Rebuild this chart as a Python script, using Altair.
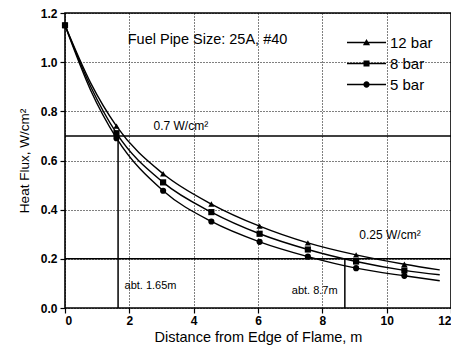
import altair as alt
import pandas as pd

series = ["12 bar", "8 bar", "5 bar"]

# marker positions (distance, m) and heat flux (W/cm2)
marker_x = [0.0, 1.6, 3.05, 4.55, 6.05, 7.55, 9.05, 10.55]
mark_12 = [1.15, 0.740, 0.546, 0.423, 0.333, 0.265, 0.216, 0.178]
mark_8 = [1.15, 0.711, 0.511, 0.390, 0.302, 0.238, 0.189, 0.153]
mark_5 = [1.15, 0.691, 0.477, 0.352, 0.269, 0.209, 0.162, 0.131]

# fitted curves
curve_x = [0.0, 0.8, 1.6, 3.05, 4.55, 6.05, 7.55, 9.05, 10.55, 11.65]
curve_12 = [1.15, 0.915, 0.740, 0.546, 0.423, 0.333, 0.265, 0.216, 0.178, 0.155]
curve_8 = [1.15, 0.900, 0.711, 0.511, 0.390, 0.302, 0.238, 0.189, 0.153, 0.135]
curve_5 = [1.15, 0.885, 0.691, 0.477, 0.352, 0.269, 0.209, 0.162, 0.131, 0.111]

# reference levels
h_levels = [0.7, 0.2]
v_x = [1.65, 8.7]
v_top = [0.7, 0.2]

# annotations
ann_text = ["Fuel Pipe Size: 25A, #40", "0.7 W/cm²", "0.25 W/cm²", "abt. 1.65m", "abt. 8.7m"]
ann_x = [1.95, 2.75, 9.15, 1.85, 7.05]
ann_y = [1.092, 0.74, 0.297, 0.088, 0.068]
ann_size = [14.5, 12, 12, 11, 11]

x_ticks = list(range(0, 13))
y_ticks = [round(i * 0.1, 1) for i in range(0, 13)]

FONT = "Liberation Sans"

pts = pd.DataFrame(
    [(x, y, s) for s, ys in zip(series, [mark_12, mark_8, mark_5]) for x, y in zip(marker_x, ys)],
    columns=["x", "y", "series"],
)
crv = pd.DataFrame(
    [(x, y, s) for s, ys in zip(series, [curve_12, curve_8, curve_5]) for x, y in zip(curve_x, ys)],
    columns=["x", "y", "series"],
)
hr = pd.DataFrame({"y": h_levels})
vr = pd.DataFrame({"x": v_x, "y0": [0.0, 0.0], "y1": v_top})
ann = pd.DataFrame({"t": ann_text, "x": ann_x, "y": ann_y, "s": ann_size})

xscale = alt.Scale(domain=[0, 12], nice=False, zero=False)
yscale = alt.Scale(domain=[0, 1.2], nice=False, zero=False)

even_x = "datum.value % 2 === 0"
even_y = "round(datum.value * 10) % 2 === 0"

xaxis = alt.Axis(
    values=x_ticks,
    labelExpr=f"{even_x} ? datum.label : ''",
    grid=True,
    gridDash=[1, 2],
    gridColor="black",
    gridWidth=1,
    gridOpacity={"condition": {"test": even_x, "value": 1}, "value": 0},
    tickSize={"condition": {"test": even_x, "value": 5}, "value": 3},
    tickColor="black",
    tickWidth=1.2,
    domain=False,
    labelFont=FONT,
    labelFontSize=12,
    labelFontWeight="bold",
    labelColor="black",
    labelPadding=2,
    title="Distance from Edge of Flame, m",
    titleFont=FONT,
    titleFontSize=14.5,
    titleFontWeight="normal",
    titleColor="black",
    titlePadding=4,
)
yaxis = alt.Axis(
    values=y_ticks,
    format=".1f",
    labelExpr=f"{even_y} ? datum.label : ''",
    grid=True,
    gridDash=[1, 2],
    gridColor="black",
    gridWidth=1,
    gridOpacity={"condition": {"test": even_y, "value": 1}, "value": 0},
    tickSize={"condition": {"test": even_y, "value": 5}, "value": 3},
    tickColor="black",
    tickWidth=1.2,
    domain=False,
    labelFont=FONT,
    labelFontSize=12,
    labelFontWeight="bold",
    labelColor="black",
    labelPadding=3,
    title="Heat Flux, W/cm²",
    titleFont=FONT,
    titleFontSize=13.5,
    titleFontWeight="normal",
    titleColor="black",
    titlePadding=9,
)

curves = alt.Chart(crv).mark_line(interpolate="monotone", color="black", strokeWidth=1.4).encode(
    x=alt.X("x:Q", scale=xscale, axis=xaxis),
    y=alt.Y("y:Q", scale=yscale, axis=yaxis),
    detail="series:N",
)

points = alt.Chart(pts).mark_point(filled=True, color="black", size=38, opacity=1).encode(
    x="x:Q",
    y="y:Q",
    shape=alt.Shape(
        "series:N",
        scale=alt.Scale(domain=series, range=["triangle-up", "square", "circle"]),
        legend=None,
    ),
)

# legend glyphs: a thin filled bar (the line) plus the marker
bar = "M-6.5,-0.24H6.5V0.24H-6.5Z"
legend_paths = [
    bar + "M0,-1.2L1.2,0.9L-1.2,0.9Z",
    bar + "M-1,-1H1V1H-1Z",
    bar + "M1.05,0A1.05,1.05,0,1,1,-1.05,0A1.05,1.05,0,1,1,1.05,0Z",
]
legend_layer = alt.Chart(pts).transform_filter("false").mark_point(
    filled=True, color="black", size=36, opacity=1
).encode(
    x="x:Q",
    y="y:Q",
    shape=alt.Shape(
        "series:N",
        scale=alt.Scale(domain=series, range=legend_paths),
        legend=alt.Legend(
            title=None,
            orient="none",
            legendX=294,
            legendY=22,
            symbolSize=36,
            symbolFillColor="black",
            labelOffset=16,
            labelFont=FONT,
            labelFontSize=15,
            labelColor="black",
            rowPadding=5,
            padding=0,
        ),
    ),
)

hrules = alt.Chart(hr).mark_rule(color="black", strokeWidth=1.5).encode(y="y:Q")
vrules = alt.Chart(vr).mark_rule(color="black", strokeWidth=1.5).encode(x="x:Q", y="y0:Q", y2="y1:Q")

texts = alt.Chart(ann).mark_text(align="left", baseline="middle", font=FONT, color="black").encode(
    x="x:Q",
    y="y:Q",
    text="t:N",
    size=alt.Size("s:Q", scale=None, legend=None),
)

chart = (
    alt.layer(curves, hrules, vrules, points, legend_layer, texts)
    .resolve_scale(shape="independent")
    .properties(
        width=386,
        height=295,
        autosize=alt.AutoSizeParams(type="none"),
        padding={"left": 57, "top": 5, "right": 0, "bottom": 38},
        background="white",
    )
    .configure_view(stroke="black", strokeWidth=1.6)
)

chart.save("out.html", embed_options={"renderer": "svg", "actions": False})
